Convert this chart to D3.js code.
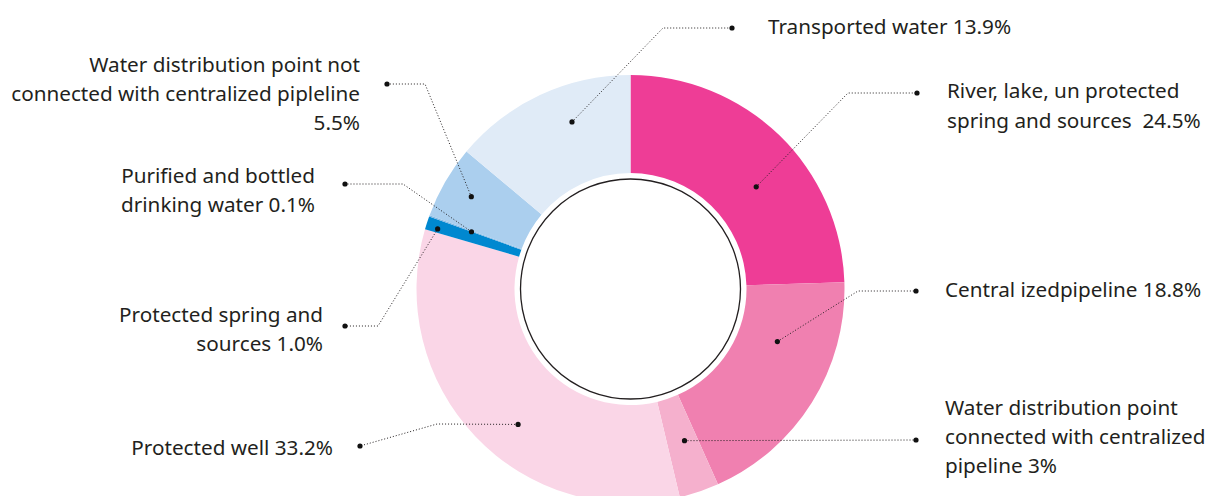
<!DOCTYPE html>
<html>
<head>
<meta charset="utf-8">
<script src="https://cdn.jsdelivr.net/npm/d3@7"></script>
<style>
  html, body { margin: 0; padding: 0; background: #fff; }
  svg { display: block; }
  text { font-family: "Noto Sans", "Open Sans", sans-serif; fill: #231f20; }
</style>
</head>
<body>
<svg id="chart" width="1211" height="496"></svg>
<script>
// ---- data ----
const categories = [
  "River, lake, un protected spring and sources",
  "Central izedpipeline",
  "Water distribution point connected with centralized pipeline",
  "Protected well",
  "Protected spring and sources",
  "Purified and bottled drinking water",
  "Water distribution point not connected with centralized pipleline",
  "Transported water"
];
const values = [24.5, 18.8, 3, 33.2, 1.0, 0.1, 5.5, 13.9];
const labelLines = [
  ["River, lake, un protected", "spring and sources  24.5%"],
  ["Central izedpipeline 18.8%"],
  ["Water distribution point", "connected with centralized", "pipeline 3%"],
  ["Protected well 33.2%"],
  ["Protected spring and", "sources 1.0%"],
  ["Purified and bottled", "drinking water 0.1%"],
  ["Water distribution point not", "connected with centralized pipleline", "5.5%"],
  ["Transported water 13.9%"]
];
const colors = ["#ee3d96", "#f080b0", "#f5b0cd", "#fad6e7", "#0088d0", "#80b8e4", "#abcfee", "#e0ebf7"];

// ---- layout (annotation geometry) ----
const cx = 630.5, cy = 289, rOuter = 214, rInner = 116, rHole = 110;
const leaders = [
  {a: 50.9,  r: 162, elbow: [848, 93],  end: [917, 93],  tx: 947, ty: 98,  anchor: "start", lh: 30},
  {a: 109.7, r: 156, elbow: [858, 291], end: [916, 291], tx: 945, ty: 297, anchor: "start", lh: 29},
  {a: 160.4, r: 161, elbow: null,       end: [916, 440], tx: 945, ty: 415, anchor: "start", lh: 29},
  {a: 219.7, r: 176, elbow: [437, 424], end: [360, 446], tx: 333, ty: 455, anchor: "end",   lh: 29},
  {a: 287.3, r: 202, elbow: [378, 326], end: [345, 326], tx: 323, ty: 322, anchor: "end",   lh: 29},
  {a: 289.8, r: 169, elbow: [403, 184], end: [345, 184], tx: 315, ty: 183, anchor: "end",   lh: 28.5},
  {a: 300.1, r: 184, elbow: [425, 84],  end: [387, 84],  tx: 360, ty: 72,  anchor: "end",   lh: 29},
  {a: 340.7, r: 177, elbow: [663, 28],  end: [732, 28],  tx: 768, ty: 34,  anchor: "start", lh: 29}
];

const svg = d3.select("#chart");
const g = svg.append("g").attr("transform", `translate(${cx},${cy})`);

const pie = d3.pie().sort(null).value(d => d).startAngle(0).endAngle(2 * Math.PI);
const arcs = pie(values);
const arc = d3.arc().innerRadius(rInner).outerRadius(rOuter);

g.selectAll("path.slice")
  .data(arcs)
  .join("path")
  .attr("class", "slice")
  .attr("d", arc)
  .attr("fill", (d, i) => colors[i]);

g.append("circle")
  .attr("r", rHole)
  .attr("fill", "#fff")
  .attr("stroke", "#231f20")
  .attr("stroke-width", 1.3);

const polar = (aDeg, r) => {
  const a = aDeg * Math.PI / 180;
  return [cx + r * Math.sin(a), cy - r * Math.cos(a)];
};
const lg = svg.append("g");
leaders.forEach((L, i) => {
  const p0 = polar(L.a, L.r);
  const pts = [p0];
  if (L.elbow) pts.push(L.elbow);
  pts.push(L.end);
  lg.append("path")
    .attr("d", d3.line()(pts))
    .attr("fill", "none")
    .attr("stroke", "#231f20")
    .attr("stroke-width", 1)
    .attr("stroke-dasharray", "1,2");
  [p0, L.end].forEach(p => {
    lg.append("circle").attr("cx", p[0]).attr("cy", p[1]).attr("r", 2.6).attr("fill", "#111");
  });
  const t = lg.append("text")
    .attr("x", L.tx).attr("y", L.ty)
    .attr("text-anchor", L.anchor)
    .attr("font-size", 20.7)
    .attr("xml:space", "preserve");
  labelLines[i].forEach((line, j) => {
    t.append("tspan").attr("x", L.tx).attr("y", L.ty + j * L.lh).text(line);
  });
});
</script>
</body>
</html>
